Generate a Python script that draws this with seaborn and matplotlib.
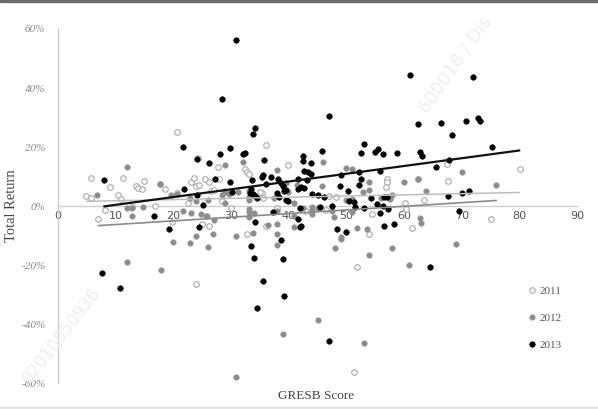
import numpy as np
import pandas as pd
import matplotlib
matplotlib.use("Agg")
import matplotlib.pyplot as plt
from matplotlib.patches import Rectangle
import seaborn as sns

# ---------------- data ----------------
years = ["2011", "2012", "2013"]

x_2013 = [30.9, 28.4, 34.2, 33.9, 47.0, 61.0, 72.0, 62.5, 66.4, 68.3, 70.7, 72.9, 73.1, 75.3,
          21.7, 29.8, 28.1, 32.1, 32.5, 35.8, 24.1, 26.2,
          45.7, 42.4, 42.4, 43.8, 53.1, 52.5, 54.9, 55.5, 56.4, 58.7, 62.7, 63.2, 65.5, 67.8,
          42.6, 43.4, 43.8, 52.2, 55.8, 49.1, 52.6, 52.2, 48.9, 50.3, 71.3, 70.1, 67.6,
          27.3, 29.8, 35.3, 35.6, 36.9, 38.2, 33.6, 41.6, 43.2, 8.0, 21.8, 25.2, 30.1, 33.3,
          33.8, 34.2, 34.5, 38.3, 39.2, 39.6, 39.9, 41.7,
          36.1, 38.7, 39.0, 42.1, 42.7, 33.4, 38.0, 39.5, 24.1,
          44.0, 45.0, 46.2, 50.5, 51.3, 54.3, 55.4, 56.5, 57.0,
          16.6, 19.2, 24.4, 7.7, 10.7, 33.5, 34.1, 34.0, 35.6, 34.5, 38.7, 39.0, 39.2, 37.3,
          41.6, 41.9, 42.2, 48.4, 49.9, 56.6, 58.3, 55.8, 64.5, 47.0, 69.6, 45.4, 47.5, 51.5,
          53.0, 56.4, 57.2, 42.0]
y_2013 = [56.0, 36.0, 26.3, 24.2, 30.1, 44.0, 43.6, 27.5, 28.0, 24.0, 28.7, 29.7, 28.4, 19.8,
          19.7, 19.4, 17.4, 17.5, 17.6, 15.5, 15.8, 14.5,
          18.3, 16.8, 15.0, 14.5, 20.7, 17.6, 18.0, 19.2, 17.3, 17.6, 18.2, 16.8, 12.9, 15.5,
          11.6, 11.2, 10.8, 11.2, 11.6, 10.2, 9.0, 6.9, 6.7, 4.9, 5.0, 4.2, 3.1,
          9.0, 8.1, 9.7, 10.2, 9.5, 9.0, 8.6, 8.8, 8.6, 8.6, 5.6, 0.1, 4.4, 4.1,
          3.9, 3.3, 2.6, 3.0, 4.9, 1.8, 1.6, 5.6,
          7.4, 7.5, 6.5, 6.4, 5.9, 5.5, 4.2, 5.2, 3.5,
          4.0, 3.5, 3.0, 1.6, 1.3, 2.5, 0.6, 2.8, 2.9,
          -3.4, -7.8, -7.3, -22.9, -27.9, -13.8, -5.5, -17.9, -25.4, -34.7, -11.5, -18.0, -30.5, -2.3,
          -4.4, -7.1, -6.8, -8.1, -8.8, -6.8, -6.3, -2.6, -20.8, -45.8, -1.8, -0.6, -0.2, -0.6,
          -0.8, -0.2, -1.2, -1.0]

x_2012 = [11.9, 6.8, 19.6, 20.6, 17.7, 22.9, 28.8, 31.3, 33.1, 37.4, 39.9, 41.0, 32.0, 28.9,
          37.9, 45.9, 49.9, 50.9, 70.0, 53.9, 60.0, 62.4, 76.0, 52.9, 53.9, 45.7, 49.9, 50.9,
          56.0, 58.0, 57.5, 39.5, 41.4, 28.4, 29.6, 29.2, 33.1, 33.1, 63.9, 24.0, 26.0,
          11.9, 12.9, 12.9, 14.8, 11.9, 17.9, 19.9, 22.9, 23.9, 26.0, 26.9, 25.8, 23.0, 27.0,
          28.9, 30.9, 33.9, 33.1, 34.0, 37.9, 37.9, 37.9, 40.9, 41.0, 33.1, 30.9, 39.0, 21.7,
          24.8, 25.6, 33.1, 37.9, 36.4, 49.0, 49.0, 51.9, 48.0, 54.0, 57.9, 60.9, 69.0, 45.0,
          53.0, 63.0, 47.8, 44.0, 44.0, 44.0, 45.0, 50.9, 42.5, 62.7, 47.5, 53.5]
y_2012 = [12.9, 3.7, 3.7, 4.0, 7.2, 2.6, 4.9, 4.6, 4.8, 2.4, 4.6, 1.0, 14.6, 13.7,
          12.0, 14.8, 12.8, 12.4, 11.4, 7.8, 8.0, 9.0, 7.0, 4.5, 5.4, 6.6, 2.0, 2.2,
          2.5, 3.6, 2.2, 7.7, 6.8, 3.5, 4.0, 4.7, 3.0, 1.8, 5.0, 1.5, 1.8,
          -1.0, -0.8, -3.6, -0.5, -19.0, -21.8, -12.3, -12.8, -10.3, -14.1, -9.6, -3.6, -2.5, -5.0,
          0.7, -10.3, -9.3, -3.8, -2.5, -9.8, -13.3, -6.3, -7.2, -3.5, -1.3, -58.0, -43.4, -1.9,
          -3.0, -3.5, -2.1, -2.0, -6.6, -10.6, -11.4, -7.6, -14.2, -16.9, -14.2, -20.1, -13.0, -38.8,
          -46.5, -5.8, -3.8, -0.5, -1.5, -2.8, -1.0, -2.3, -1.0, -4.3, -2.0, -7.8]

x_2011 = [20.7, 36.1, 24.3, 27.7, 32.4, 32.7, 33.2, 39.8, 27.9, 5.7, 11.2, 9.0, 14.9, 13.6,
          13.8, 14.6, 17.7, 18.5, 23.0, 23.5, 24.0, 24.5, 25.5, 26.2, 4.9, 5.7, 10.4, 10.9,
          20.6, 26.5, 27.1, 35.3, 35.6, 35.1, 67.5, 80.1, 57.0, 57.1, 56.8, 62.4, 67.6, 47.0,
          48.2, 63.5, 60.2, 57.5,
          6.9, 8.2, 12.8, 16.9, 19.8, 24.0, 26.1, 32.7, 36.1, 25.0, 53.9, 61.4, 51.9, 51.4,
          54.4, 75.1, 60.3, 43.0, 46.5, 30.0, 38.0, 22.5, 28.5]
y_2011 = [24.8, 20.3, 15.9, 12.9, 12.4, 11.3, 10.6, 13.6, 9.0, 9.3, 9.2, 6.2, 8.4, 6.5,
          5.8, 5.5, 7.4, 5.5, 8.1, 9.2, 6.5, 7.0, 9.0, 7.8, 3.3, 2.7, 3.4, 2.3,
          4.1, 4.9, 5.2, 4.3, 2.4, 4.5, 14.1, 12.5, 8.8, 7.8, 6.4, 9.0, 8.2, 3.2,
          2.8, 2.0, 0.8, 3.0,
          -4.4, -1.4, -0.6, -0.1, -5.5, -26.5, -6.8, -9.8, -7.0, -6.4, -9.5, -7.7, -20.9, -56.2,
          -2.9, -4.6, -1.2, -2.0, -1.5, -1.0, -0.8, 1.0, 1.5]

# trend lines (end points)
trend_x_2011 = [5, 80]
trend_y_2011 = [1.4, 4.4]
trend_x_2012 = [7, 76]
trend_y_2012 = [-6.8, 1.7]
trend_x_2013 = [8, 80]
trend_y_2013 = [-0.3, 18.6]

x_ticks = [0, 10, 20, 30, 40, 50, 60, 70, 80, 90]
y_ticks = [-60, -40, -20, 0, 20, 40, 60]
y_tick_labels = ["-60%", "-40%", "-20%", "0%", "20%", "40%", "60%"]

x_label = "GRESB Score"
y_label = "Total Return"

# ---------------- plotting ----------------
sns.set_theme(style="white")
plt.rcParams["font.family"] = ["DejaVu Sans"]

W, H = 598, 410
fig = plt.figure(figsize=(W / 100, H / 100), dpi=100)
ax = fig.add_axes([58 / W, (H - 384) / H, 519 / W, 355 / H])

df11 = pd.DataFrame({"x": x_2011, "y": y_2011})
df12 = pd.DataFrame({"x": x_2012, "y": y_2012})
df13 = pd.DataFrame({"x": x_2013, "y": y_2013})

msize = 16
sns.scatterplot(data=df11, x="x", y="y", ax=ax, s=msize, facecolor="white",
                edgecolor="#a8a8a8", linewidth=0.8, label="2011", zorder=3)
sns.scatterplot(data=df12, x="x", y="y", ax=ax, s=msize, color="#8c8c8c",
                edgecolor="#9a9a9a", linewidth=0.4, label="2012", zorder=3)
sns.scatterplot(data=df13, x="x", y="y", ax=ax, s=msize, color="#000000",
                edgecolor="#000000", linewidth=0.4, label="2013", zorder=4)

sns.lineplot(x=trend_x_2011, y=trend_y_2011, ax=ax, color="#bdbdbd", linewidth=1.1, zorder=5)
sns.lineplot(x=trend_x_2012, y=trend_y_2012, ax=ax, color="#8a8a8a", linewidth=1.2, zorder=5)
sns.lineplot(x=trend_x_2013, y=trend_y_2013, ax=ax, color="#111111", linewidth=1.6, zorder=6)

ax.set_xlim(0, 90)
ax.set_ylim(-60, 60)

for s in ["top", "right"]:
    ax.spines[s].set_visible(False)
ax.spines["bottom"].set_position(("data", 0))
ax.spines["left"].set_position(("data", 0))
for s in ["bottom", "left"]:
    ax.spines[s].set_color("#cfcfcf")
    ax.spines[s].set_linewidth(1.0)
    ax.spines[s].set_zorder(1)

ax.set_xticks(x_ticks)
ax.set_xticklabels([str(v) for v in x_ticks])
ax.set_yticks(y_ticks)
ax.set_yticklabels(y_tick_labels)
ax.tick_params(axis="x", length=0, pad=3, labelsize=8, labelcolor="#555555")
ax.tick_params(axis="y", length=0, pad=9, labelsize=8, labelcolor="#8a8a8a")
for t in ax.get_yticklabels():
    t.set_fontfamily("Liberation Serif")
    t.set_fontstyle("italic")

ax.set_xlabel("")
ax.set_ylabel("")
fig.text(316 / W, 1 - 396 / H, x_label, ha="center", va="center",
         fontfamily="Liberation Serif", fontsize=9.5, color="#444444")
fig.text(12 / W, 1 - 206 / H, y_label, ha="center", va="center", rotation=90,
         fontfamily="Liberation Serif", fontsize=10.5, color="#444444")

leg = ax.legend(loc="center left", bbox_to_anchor=(529 / W, 1 - 318 / H),
                bbox_transform=fig.transFigure, frameon=False, borderpad=0,
                borderaxespad=0, handlelength=0.6, handletextpad=0.35,
                labelspacing=1.55, prop={"family": "Liberation Serif", "size": 8})
for t in leg.get_texts():
    t.set_color("#555555")

# watermarks
fig.text(455 / W, 1 - 65 / H, "600018 / Dis", rotation=55, ha="center", va="center",
         fontsize=13, color="#efefef", zorder=0)
fig.text(62 / W, 1 - 335 / H, "02010050936", rotation=52, ha="center", va="center",
         fontsize=12, color="#efefef", zorder=0)

# screenshot frame
fig.add_artist(Rectangle((0, 1 - 3 / H), 1, 3 / H, transform=fig.transFigure,
                         color="#6b6b6b", zorder=10))
fig.add_artist(Rectangle((0, 1 / H), 1, 1 / H, transform=fig.transFigure,
                         color="#e6e6e6", zorder=10))

fig.savefig("out.png", dpi=100)
